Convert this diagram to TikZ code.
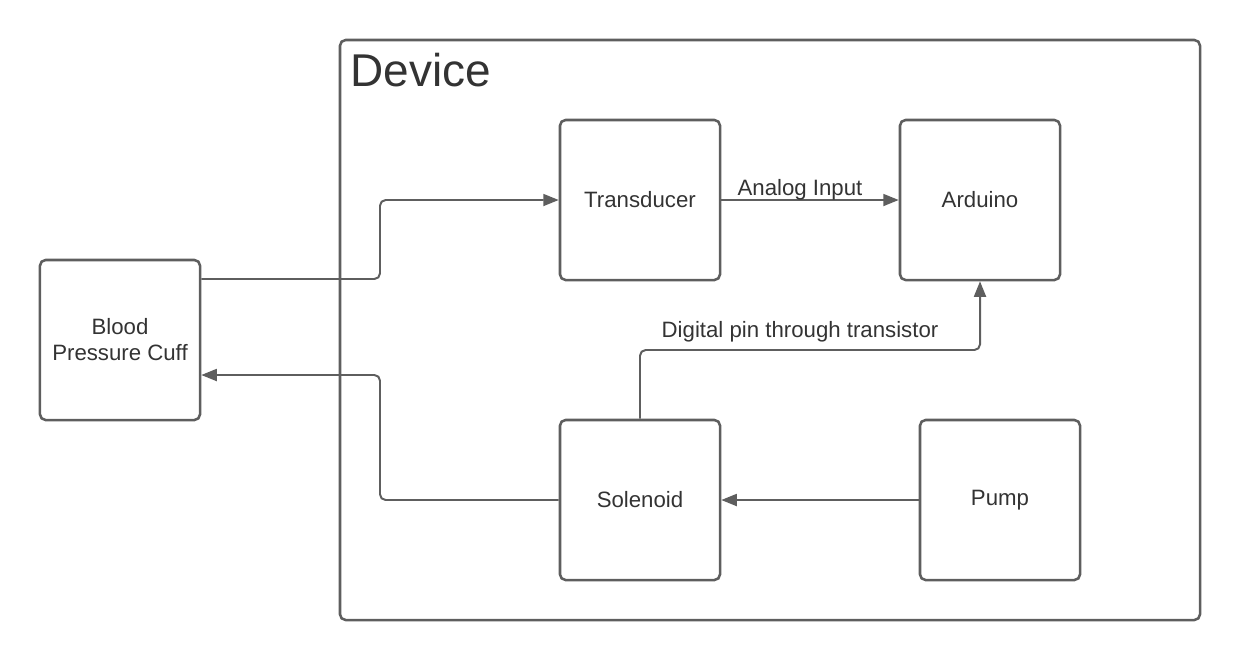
\documentclass[tikz,border=0pt]{standalone}
\usepackage{fontspec}
\setmainfont{Liberation Sans}
\usepackage{tikz}
\usetikzlibrary{arrows.meta, positioning}

\definecolor{linegray}{HTML}{5E5E5E}
\definecolor{textgray}{HTML}{333333}

\begin{document}
\begin{tikzpicture}[x=0.025cm, y=-0.025cm,
    block/.style={draw=linegray, line width=1.8pt, rounded corners=4pt, minimum width=4cm, minimum height=4cm, align=center, text=textgray, font=\fontsize{15.8}{18.5}\selectfont},
    link/.style={draw=linegray, line width=1.4pt, rounded corners=4pt, -{Triangle[length=11pt, width=8.5pt]}},
    tag/.style={text=textgray, font=\fontsize{15.8}{18.5}\selectfont, inner sep=0pt}]
    % Bounding box
    \useasboundingbox (0,0) rectangle (1240,660);

    % Device frame
    \draw[linegray, line width=1.8pt, rounded corners=4pt] (340,40) rectangle (1200,620);
    \node[text=textgray, font=\fontsize{32.7}{38}\selectfont, anchor=base west, inner sep=0pt] (devlabel) at (350,86) {Device};

    % Blocks
    \node[block] (cuff) at (120,340) {Blood\\Pressure Cuff};
    \node[block] (transducer) at (640,200) {Transducer};
    \node[block] (arduino) at (980,200) {Arduino};
    \node[block] (solenoid) at (640,500) {Solenoid};
    \node[block] (pump) at (1000,500) {Pump};

    % Connectors
    \draw[link] (cuff.east |- 0,279) -- (380,279) -- (380,200) -- (transducer.west);
    \draw[link] (transducer.east) -- (arduino.west);
    \draw[link] (solenoid.north) -- (640,350) -- (980,350) -- (arduino.south);
    \draw[link] (pump.west) -- (solenoid.east);
    \draw[link] (solenoid.west) -- (380,500) -- (380,375) -- (cuff.east |- 0,375);

    % Labels
    \node[tag, anchor=base] (analoglabel) at (800,195) {Analog Input};
    \node[tag, anchor=base] (digitallabel) at (800,337) {Digital pin through transistor};
\end{tikzpicture}
\end{document}
